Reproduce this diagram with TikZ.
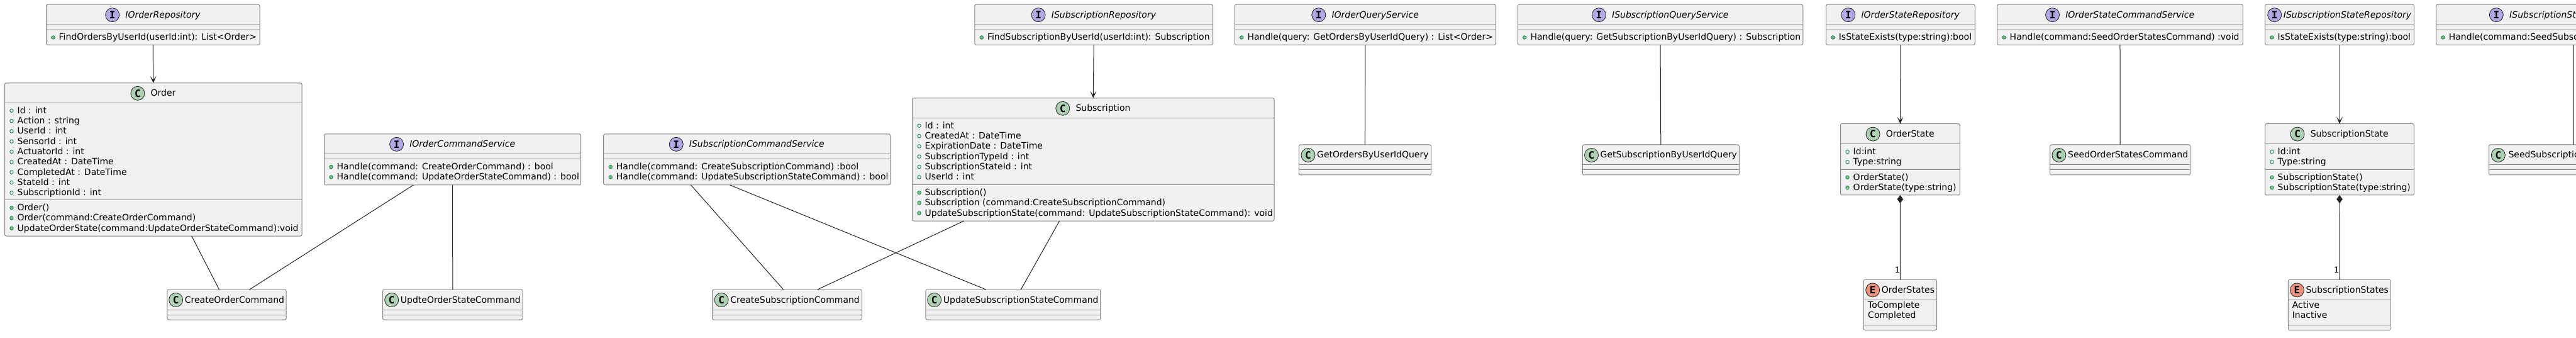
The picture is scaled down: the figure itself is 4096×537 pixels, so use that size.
\documentclass[tikz,border=0pt]{standalone}
\usepackage{fontspec}
\setmainfont{DejaVu Sans}
\newfontfamily\iconfont{DejaVu Sans Mono}
\usetikzlibrary{arrows.meta}
\definecolor{boxfill}{HTML}{F1F1F1}
\definecolor{boxline}{HTML}{858585}
\definecolor{ink}{HTML}{222222}
\definecolor{ifacecol}{HTML}{B4A7E5}
\definecolor{classcol}{HTML}{ADD1B2}
\definecolor{enumcol}{HTML}{EB937F}
\definecolor{dotline}{HTML}{038048}
\definecolor{dotfill}{HTML}{84BE84}
\newcommand{\umlfont}{\fontsize{14}{16.3}\selectfont}
\tikzset{
  umlbox/.style={draw=boxline, fill=boxfill, rounded corners=2.5pt, line width=1pt, inner sep=0pt, outer sep=0pt},
  divider/.style={draw=boxline, line width=1pt},
  headI/.style={font=\umlfont\itshape, inner sep=0pt},
  headC/.style={font=\umlfont, inner sep=0pt},
  headE/.style={font=\umlfont, inner sep=0pt},
  iconbase/.style={circle, draw=ink, line width=0.8pt, minimum size=22pt, inner sep=0pt, font=\fontsize{16}{16}\iconfont\bfseries},
  iconI/.style={iconbase, fill=ifacecol},
  iconC/.style={iconbase, fill=classcol},
  iconE/.style={iconbase, fill=enumcol},
  rowtext/.style={font=\umlfont, anchor=base west, inner sep=0pt},
  field/.style={circle, draw=dotline, fill=boxfill, line width=0.8pt, minimum size=5.5pt, inner sep=0pt},
  method/.style={circle, draw=dotline, fill=dotfill, line width=0.8pt, minimum size=5.5pt, inner sep=0pt},
  assoc/.style={draw=ink, line width=1pt},
  depend/.style={assoc, -{Stealth[length=11pt, width=10pt, inset=6pt]}},
  compos/.style={assoc, {Diamond[length=13pt, width=9.5pt]}-},
}
% one text row per member, with its dot
\newcommand{\umlrows}[4]{%
  \foreach \rowtxt [count=\rownum from 0] in {#4} {
    \node[rowtext] (#1-#3-\rownum) at ([xshift=20pt]#1.west |- 0,{#2+16.6+16.3*\rownum}) {\rowtxt};
    \node[#3] (#1-#3-dot\rownum) at ([xshift=-9pt, yshift=4.5pt]#1-#3-\rownum.base west) {};
  }
}
\begin{document}
\begin{tikzpicture}[x=1pt, y=-1pt]
  \useasboundingbox (0,0) rectangle (4096,537);

  % Boxes: name/kind/title/left/right/top/bottom/divider/divider/gap
  \foreach \n/\k/\ttl/\xa/\xb/\ya/\yb/\da/\db/\g in {
    orderrepo/I/IOrderRepository/73.5/413/7.2/71.5/39.5/47.4/9.5,
    order/C/Order/7.5/480/131.8/375/163.7/318/9.5,
    ordercmdsvc/I/IOrderCommandService/515.5/923.5/212.8/294/244.7/253/9.5,
    createorder/C/CreateOrderCommand/265.8/455.2/460/508/492.4/500.3/3,
    updteorder/C/UpdteOrderStateCommand/608.5/831.2/460/508/492.4/500.3/3,
    subcmdsvc/I/ISubscriptionCommandService/959.7/1415.5/212.8/294/244.7/253/9.5,
    createsub/C/CreateSubscriptionCommand/1132.5/1370.7/460/508/492.4/500.3/3,
    updatesub/C/UpdateSubscriptionStateCommand/1471.8/1749.6/460/508/492.4/500.3/3,
    subrepo/I/ISubscriptionRepository/1549.8/1928.6/7.2/71.5/39.5/47.4/9.5,
    subscription/C/Subscription/1450.5/2026/155.8/351/187.7/294/9.5,
    orderqrysvc/I/IOrderQueryService/1963.3/2378.6/7.2/71.5/39.5/47.4/9.5,
    getorders/C/GetOrdersByUserIdQuery/2065.3/2275.5/230/278/261.8/269.7/3,
    subqrysvc/I/ISubscriptionQueryService/2413.3/2866.8/7.2/71.5/39.5/47.4/9.5,
    getsub/C/GetSubscriptionByUserIdQuery/2516.3/2765.3/230/278/261.8/269.7/3,
    orderstaterepo/I/IOrderStateRepository/2903.6/3140.3/7.2/71.5/39.5/47.4/9.5,
    orderstate/C/OrderState/2926.5/3116.3/196.6/310/228.9/269.7/9.5,
    orderstates/E/OrderStates/2963.3/3079.6/444.4/524.4/476.3/516.5/3,
    orderstatesvc/I/IOrderStateCommandService/3175.5/3566.4/7.2/71.5/39.5/47.4/9.5,
    seedorder/C/SeedOrderStatesCommand/3259.7/3482.6/230/278/261.8/269.7/3,
    substaterepo/I/ISubscriptionStateRepository/3601.5/3838.5/7.2/71.5/39.5/47.4/3,
    substate/C/SubscriptionState/3601.5/3838.5/196.6/310/228.9/269.7/9.5,
    substates/E/SubscriptionStates/3638.4/3801.2/444.4/524.4/476.3/516.5/3} {
    \node[umlbox, minimum width={(\xb-\xa)*1pt}, minimum height={(\yb-\ya)*1pt}] (\n) at ({(\xa+\xb)/2},{(\ya+\yb)/2}) {};
    \draw[divider] (\n.west |- 0,\da) -- (\n.east |- 0,\da);
    \draw[divider] (\n.west |- 0,\db) -- (\n.east |- 0,\db);
    \node[style=head\k, anchor=base] (\n-title) at ([xshift={(22+\g)/2*1pt}, yshift=-21pt]\n.north) {\ttl};
    \node[style=icon\k] (\n-icon) at ([xshift={-(\g+11)*1pt}, yshift=4.5pt]\n-title.base west) {\k};
  }

  % The two boxes that run past the right edge
  \foreach \n/\xa/\xb/\ya/\yb/\da/\db in {
    substatesvc/3873.6/4311/7.2/71.5/39.5/47.4,
    seedsub/3957.5/4227.3/230/278/261.8/269.7} {
    \node[umlbox, minimum width={(\xb-\xa)*1pt}, minimum height={(\yb-\ya)*1pt}] (\n) at ({(\xa+\xb)/2},{(\ya+\yb)/2}) {};
    \draw[divider] (\n.west |- 0,\da) -- (\n.east |- 0,\da);
    \draw[divider] (\n.west |- 0,\db) -- (\n.east |- 0,\db);
  }
  \node[headI, anchor=base west] (substatesvc-title) at (3990,28.2) {ISubscriptionSt};
  \node[iconI] (substatesvc-icon) at (3969.3,23.7) {I};
  \node[headC, anchor=base west] (seedsub-title) at (3988.3,251) {SeedSubscriptio};
  \node[iconC] (seedsub-icon) at (3972.3,246.5) {C};

  % Members
  \umlrows{orderrepo}{47.4}{method}{FindOrdersByUserId(userId:int): List<Order>}
  \umlrows{order}{163.7}{field}{Id : int, Action : string, UserId : int, SensorId : int, ActuatorId : int,
    CreatedAt : DateTime, CompletedAt : DateTime, StateId : int, SubscriptionId : int}
  \umlrows{order}{318}{method}{Order(), Order(command:CreateOrderCommand),
    UpdateOrderState(command:UpdateOrderStateCommand):void}
  \umlrows{ordercmdsvc}{253}{method}{Handle(command: CreateOrderCommand) : bool,
    Handle(command: UpdateOrderStateCommand) : bool}
  \umlrows{subcmdsvc}{253}{method}{Handle(command: CreateSubscriptionCommand) :bool,
    Handle(command: UpdateSubscriptionStateCommand) : bool}
  \umlrows{subrepo}{47.4}{method}{FindSubscriptionByUserId(userId:int): Subscription}
  \umlrows{subscription}{187.7}{field}{Id : int, CreatedAt : DateTime, ExpirationDate : DateTime,
    SubscriptionTypeId : int, SubscriptionStateId : int, UserId : int}
  \umlrows{subscription}{294}{method}{Subscription(), Subscription (command:CreateSubscriptionCommand),
    UpdateSubscriptionState(command: UpdateSubscriptionStateCommand): void}
  \umlrows{orderqrysvc}{47.4}{method}{Handle(query: GetOrdersByUserIdQuery) : List<Order>}
  \umlrows{subqrysvc}{47.4}{method}{Handle(query: GetSubscriptionByUserIdQuery) : Subscription}
  \umlrows{orderstaterepo}{47.4}{method}{IsStateExists(type:string):bool}
  \umlrows{orderstate}{228.9}{field}{Id:int, Type:string}
  \umlrows{orderstate}{269.7}{method}{OrderState(), OrderState(type:string)}
  \umlrows{orderstatesvc}{47.4}{method}{Handle(command:SeedOrderStatesCommand) :void}
  \umlrows{substaterepo}{47.4}{method}{IsStateExists(type:string):bool}
  \umlrows{substate}{228.9}{field}{Id:int, Type:string}
  \umlrows{substate}{269.7}{method}{SubscriptionState(), SubscriptionState(type:string)}
  \umlrows{substatesvc}{47.4}{method}{Handle(command:SeedSubsc}

  % Enum values have no dot
  \node[rowtext] (orderstates-a) at (2970,489.5) {ToComplete};
  \node[rowtext] (orderstates-b) at (2970,505.8) {Completed};
  \node[rowtext] (substates-a) at (3644.6,489.5) {Active};
  \node[rowtext] (substates-b) at (3644.6,505.8) {Inactive};

  % Connectors
  \draw[depend] (orderrepo.south) -- (order.north);
  \draw[depend] (subrepo.south) -- (subscription.north);
  \draw[depend] (orderstaterepo.south) -- (orderstate.north);
  \draw[depend] (substaterepo.south) -- (substate.north);
  \draw[assoc] ([xshift=61pt]order.south) -- ([xshift=-12pt]createorder.north);
  \draw[assoc] ([xshift=-62.2pt]ordercmdsvc.south) -- ([xshift=36.2pt]createorder.north);
  \draw[assoc] ([xshift=0pt]ordercmdsvc.south) -- (updteorder.north);
  \draw[assoc] ([xshift=-89pt]subcmdsvc.south) -- ([xshift=-6pt]createsub.north);
  \draw[assoc] ([xshift=-27pt]subcmdsvc.south) -- ([xshift=-43pt]updatesub.north);
  \draw[assoc] ([xshift=-205.6pt]subscription.south) -- ([xshift=48.4pt]createsub.north);
  \draw[assoc] ([xshift=-53.6pt]subscription.south) -- ([xshift=12.6pt]updatesub.north);
  \draw[assoc] (orderqrysvc.south) -- (getorders.north);
  \draw[assoc] (subqrysvc.south) -- (getsub.north);
  \draw[assoc] (orderstatesvc.south) -- (seedorder.north);
  \draw[assoc] (substatesvc.south) -- (seedsub.north);
  \draw[compos] (orderstate.south) -- (orderstates.north);
  \draw[compos] (substate.south) -- (substates.north);
  \node[font=\fontsize{13}{13}\selectfont, inner sep=0pt] (orderstates-one) at ([xshift=-4.6pt, yshift=16pt]orderstates.north) {1};
  \node[font=\fontsize{13}{13}\selectfont, inner sep=0pt] (substates-one) at ([xshift=-4.6pt, yshift=16pt]substates.north) {1};
\end{tikzpicture}
\end{document}
